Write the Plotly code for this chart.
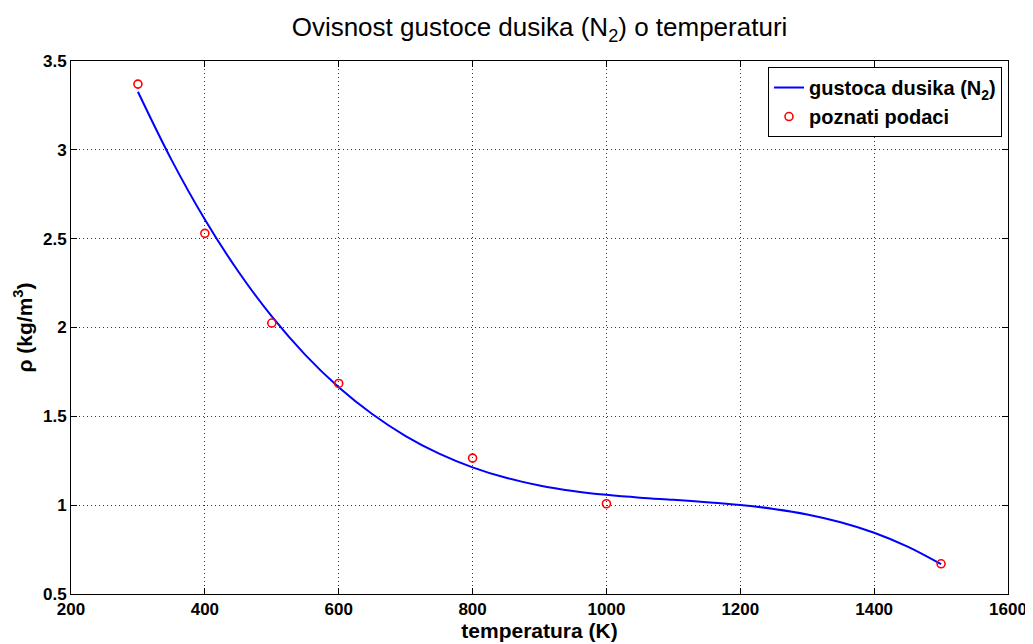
import plotly.graph_objects as go

# Known data points (poznati podaci)
temp_points = [300, 400, 500, 600, 800, 1000, 1500]
rho_points = [3.37, 2.53, 2.025, 1.685, 1.265, 1.008, 0.67]

# Fitted curve
curve_temp = [300, 350, 400, 450, 500, 550, 600, 650, 700, 750, 800, 850, 900,
              950, 1000, 1050, 1100, 1150, 1200, 1250, 1300, 1350, 1400, 1450, 1500]
curve_rho = [3.327, 2.945, 2.608, 2.315, 2.062, 1.846, 1.664, 1.513, 1.389, 1.290,
             1.213, 1.154, 1.111, 1.080, 1.058, 1.042, 1.030, 1.017, 1.001, 0.979,
             0.948, 0.904, 0.845, 0.767, 0.668]

x_ticks = [200, 400, 600, 800, 1000, 1200, 1400, 1600]
y_ticks = [0.5, 1, 1.5, 2, 2.5, 3, 3.5]

FONT = "Liberation Sans, Arial, Helvetica, sans-serif"

# The page body has an 8px margin, so the figure is sized/offset to compensate
W, H = 1025, 636

fig = go.Figure()
fig.add_trace(go.Scatter(
    x=curve_temp, y=curve_rho, mode="lines",
    line=dict(color="#0000FF", width=2, shape="spline", smoothing=1),
    name="gustoca dusika (N<sub>2</sub>)"))
fig.add_trace(go.Scatter(
    x=temp_points, y=rho_points, mode="markers",
    marker=dict(symbol="circle-open", color="#FF0000", size=8,
                line=dict(color="#FF0000", width=1.6)),
    name="poznati podaci"))

axis_common = dict(
    showline=True, linecolor="black", linewidth=1, mirror="ticks",
    ticks="inside", ticklen=6, tickcolor="black", tickwidth=1,
    showgrid=True, gridcolor="#333333", griddash="1px,3px", gridwidth=1,
    zeroline=False, automargin=False, ticklabeloverflow="allow",
    tickfont=dict(family=FONT, size=17, color="black", weight="bold"),
)

fig.update_layout(
    width=W, height=H,
    margin=dict(l=63, r=W - 1000, t=53, b=H - 586),
    paper_bgcolor="white", plot_bgcolor="white",
    title=dict(text="Ovisnost gustoce dusika (N<sub>2</sub>) o temperaturi",
               x=0.5, xref="paper", xanchor="center",
               y=1 - 19 / H, yanchor="middle",
               font=dict(family=FONT, size=26, color="black")),
    xaxis=dict(range=[200, 1600], tickvals=x_ticks,
               title=dict(text="temperatura (K)", standoff=2,
                          font=dict(family=FONT, size=21, color="black", weight="bold")),
               **axis_common),
    yaxis=dict(range=[0.5, 3.5], tickvals=y_ticks,
               title=dict(text="ρ (kg/m<sup>3</sup>)", standoff=4,
                          font=dict(family=FONT, size=21, color="black", weight="bold")),
               **axis_common),
    legend=dict(x=0.9936, y=0.9887, xanchor="right", yanchor="top",
                bgcolor="white", bordercolor="black", borderwidth=1,
                font=dict(family=FONT, size=20, color="black", weight="bold")),
    showlegend=True,
)

fig.write_html("out.html")
